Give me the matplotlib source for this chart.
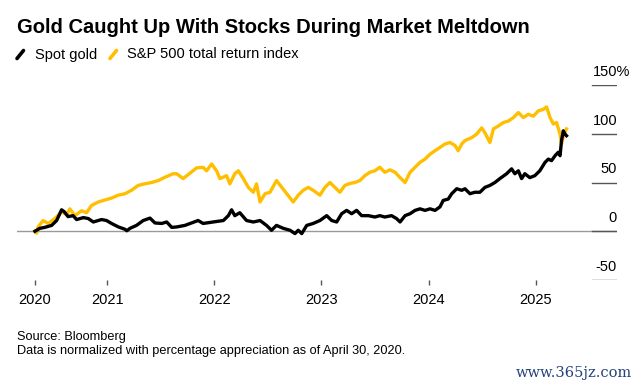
import pandas as pd
import matplotlib
matplotlib.use('Agg')
from matplotlib import pyplot as plt
from matplotlib.lines import Line2D

plt.rcParams['font.family'] = ['Liberation Sans', 'DejaVu Sans']

# Spot gold, % change since April 30, 2020
gold_dates = ['2020-04-30', '2020-05-17', '2020-06-03', '2020-06-26', '2020-07-13', '2020-07-30',
              '2020-08-08', '2020-08-21', '2020-09-07', '2020-09-19', '2020-10-12', '2020-10-29',
              '2020-11-15', '2020-12-13', '2020-12-30', '2021-01-16', '2021-02-08', '2021-03-03',
              '2021-03-09', '2021-03-20', '2021-04-11', '2021-05-04', '2021-05-27', '2021-06-13',
              '2021-07-06', '2021-07-23', '2021-08-09', '2021-08-26', '2021-09-23', '2021-11-07',
              '2021-11-24', '2021-12-28', '2022-02-01', '2022-02-18', '2022-03-01', '2022-03-12',
              '2022-03-29', '2022-04-21', '2022-05-14', '2022-06-06', '2022-06-28', '2022-07-15',
              '2022-08-01', '2022-08-24', '2022-09-16', '2022-10-03', '2022-10-14', '2022-10-26',
              '2022-11-12', '2022-12-04', '2022-12-27', '2023-01-19', '2023-02-05', '2023-02-22',
              '2023-03-11', '2023-03-28', '2023-04-14', '2023-05-01', '2023-05-18', '2023-06-10',
              '2023-07-02', '2023-07-19', '2023-08-05', '2023-08-28', '2023-09-14', '2023-09-26',
              '2023-10-13', '2023-10-30', '2023-11-16', '2023-12-03', '2023-12-20', '2024-01-06',
              '2024-01-23', '2024-02-09', '2024-02-20', '2024-03-08', '2024-03-20', '2024-04-06',
              '2024-04-23', '2024-05-04', '2024-05-21', '2024-06-07', '2024-06-24', '2024-07-11',
              '2024-07-28', '2024-08-14', '2024-08-31', '2024-09-23', '2024-10-10', '2024-10-21',
              '2024-11-02', '2024-11-13', '2024-11-24', '2024-12-11', '2024-12-28', '2025-01-14',
              '2025-02-01', '2025-02-12', '2025-02-23', '2025-03-07', '2025-03-18', '2025-03-24',
              '2025-03-29', '2025-04-04', '2025-04-10', '2025-04-15']
gold_vals = [0, 3, 4, 6, 11, 22,
             20, 15, 16, 12, 14, 13,
             9.5, 12, 11, 8, 4.5, 2,
             0.5, 3, 6, 11, 13.5, 8.5,
             8, 9.5, 4, 4.4, 6, 11,
             8, 9.5, 11, 16, 22, 16,
             19, 11, 9.5, 11, 6, 1,
             6, 3, 1, -2.4, 1, -2.4,
             6, 8, 11, 16, 11, 9.5,
             18, 21.4, 18, 21.4, 16, 16,
             14.6, 16, 14.6, 16, 13, 9.5,
             16, 18, 21.4, 23, 21.4, 23,
             21.4, 25, 31.6, 33, 38.5, 43.6,
             42, 43.6, 38.5, 40, 40, 45,
             47, 50, 54, 59, 64, 59,
             62, 54, 59, 55, 57, 62,
             70.7, 74, 72.4, 77.5, 81, 77.5,
             93, 103, 99.7, 98]

# S&P 500 total return index, % change since April 30, 2020
spx_dates = ['2020-04-30', '2020-05-06', '2020-05-11', '2020-05-28', '2020-06-14', '2020-07-07',
             '2020-07-30', '2020-08-16', '2020-08-27', '2020-09-13', '2020-10-06', '2020-10-23',
             '2020-11-09', '2020-12-02', '2020-12-24', '2021-01-16', '2021-02-08', '2021-03-03',
             '2021-03-25', '2021-04-17', '2021-05-10', '2021-06-02', '2021-06-24', '2021-07-17',
             '2021-08-14', '2021-08-26', '2021-09-17', '2021-10-10', '2021-11-02', '2021-11-24',
             '2021-12-06', '2021-12-23', '2022-01-09', '2022-01-20', '2022-02-12', '2022-02-23',
             '2022-03-12', '2022-03-24', '2022-04-10', '2022-04-27', '2022-05-14', '2022-05-25',
             '2022-06-06', '2022-06-23', '2022-07-10', '2022-08-01', '2022-08-19', '2022-09-05',
             '2022-09-27', '2022-10-14', '2022-10-31', '2022-11-17', '2022-12-04', '2022-12-27',
             '2023-01-13', '2023-01-30', '2023-02-16', '2023-03-05', '2023-03-22', '2023-04-08',
             '2023-04-25', '2023-05-12', '2023-05-29', '2023-06-15', '2023-07-02', '2023-07-19',
             '2023-08-05', '2023-08-23', '2023-09-09', '2023-09-26', '2023-10-13', '2023-10-30',
             '2023-11-16', '2023-12-03', '2023-12-20', '2024-01-06', '2024-01-23', '2024-02-09',
             '2024-02-26', '2024-03-14', '2024-03-31', '2024-04-11', '2024-04-23', '2024-05-04',
             '2024-05-27', '2024-06-13', '2024-06-30', '2024-07-11', '2024-07-28', '2024-08-09',
             '2024-08-26', '2024-09-12', '2024-09-29', '2024-10-16', '2024-11-02', '2024-11-19',
             '2024-12-06', '2024-12-23', '2025-01-09', '2025-01-26', '2025-02-06', '2025-02-18',
             '2025-03-01', '2025-03-12', '2025-03-24', '2025-03-29', '2025-04-06', '2025-04-15']
spx_vals = [0, -2, 4.5, 11, 8, 13,
            20, 17, 23, 16, 21, 19,
            26.5, 30, 32, 34, 37, 38.5,
            42, 47, 48.7, 50, 52, 55.4,
            59, 59, 54, 59.5, 65, 65.6,
            62, 69, 62, 54, 57, 48.6,
            59, 62, 54, 45, 40, 48.6,
            30, 38.5, 40, 52, 45, 38.5,
            30, 37, 42, 45, 42, 37,
            45, 50, 45, 40, 47, 49,
            50, 52, 57, 60.5, 62, 65.6,
            60.5, 63, 60.5, 55, 50, 60.5,
            65.6, 70.7, 74, 79, 82.6, 86,
            89.5, 91, 88, 82.6, 89.5, 93,
            96, 99.7, 106, 101, 91, 105,
            108, 111.5, 113, 116.6, 121.7, 116.6,
            120, 118, 123.5, 125, 127.5, 116.6,
            110, 111.5, 99.7, 89.5, 99.7, 105]

tick_dates = ['2020-04-30', '2021-01-01', '2022-01-01', '2023-01-01', '2024-01-01', '2025-01-01']
tick_labels = ['2020', '2021', '2022', '2023', '2024', '2025']
y_ticks = [150, 100, 50, 0, -50]
y_labels = ['150%', '100', '50', '0', '-50']

W, H = 640, 383
fig = plt.figure(figsize=(W / 100, H / 100), dpi=100)
ax = fig.add_axes([17 / W, 1 - 280 / H, 600 / W, 195 / H])

gold_color = '#000000'
spx_color = '#ffbf00'

ax.plot(pd.to_datetime(spx_dates), spx_vals, color=spx_color, lw=2.4, solid_joinstyle='round')
ax.plot(pd.to_datetime(gold_dates), gold_vals, color=gold_color, lw=2.4, solid_joinstyle='round')

ax.set_xlim(pd.Timestamp('2020-02-29'), pd.Timestamp('2025-10-04'))
ax.set_ylim(-50, 150)

# zero line across, short grid stubs on the right
ax.axhline(0, color='#9a9a9a', lw=1, zorder=0)
for v, lab in zip(y_ticks, y_labels):
    ax.axhline(v, xmin=575 / 600, xmax=1, color='#555555', lw=1, zorder=0)
    dx = 9.5 if lab.endswith('%') else 0
    ax.annotate(lab, xy=(1, v), xycoords=('axes fraction', 'data'),
                xytext=(dx, 6.5), textcoords='offset points',
                ha='right', va='baseline', fontsize=10.5, color='#000000')

for s in ax.spines.values():
    s.set_visible(False)
ax.set_yticks([])
ax.set_xticks(pd.to_datetime(tick_dates))
ax.set_xticklabels(tick_labels, fontsize=10.5)
ax.tick_params(axis='x', length=3.5, width=1, color='#555555', pad=6)

# title and legend
fig.text(17 / W, 1 - 33 / H, 'Gold Caught Up With Stocks During Market Meltdown',
         fontsize=14.5, fontweight='bold', va='baseline', ha='left')
fig.add_artist(Line2D([17 / W, 23.5 / W], [1 - 58.5 / H, 1 - 50.5 / H], color=gold_color, lw=2.6,
                      solid_capstyle='round'))
fig.text(35 / W, 1 - 58.5 / H, 'Spot gold', fontsize=10.5, va='baseline')
fig.add_artist(Line2D([110 / W, 116.5 / W], [1 - 58.5 / H, 1 - 50.5 / H], color=spx_color, lw=2.6,
                      solid_capstyle='round'))
fig.text(127 / W, 1 - 58.5 / H, 'S&P 500 total return index', fontsize=10.5, va='baseline')

# footnotes
fig.text(17 / W, 1 - 340 / H, 'Source: Bloomberg', fontsize=9.2, va='baseline')
fig.text(17 / W, 1 - 354 / H, 'Data is normalized with percentage appreciation as of April 30, 2020.',
         fontsize=9.2, va='baseline')
fig.text(632 / W, 1 - 377 / H, 'www.365jz.com', fontsize=10.5, color='#23437a',
         family='DejaVu Serif', ha='right', va='baseline')

fig.savefig('out.png', dpi=100)
